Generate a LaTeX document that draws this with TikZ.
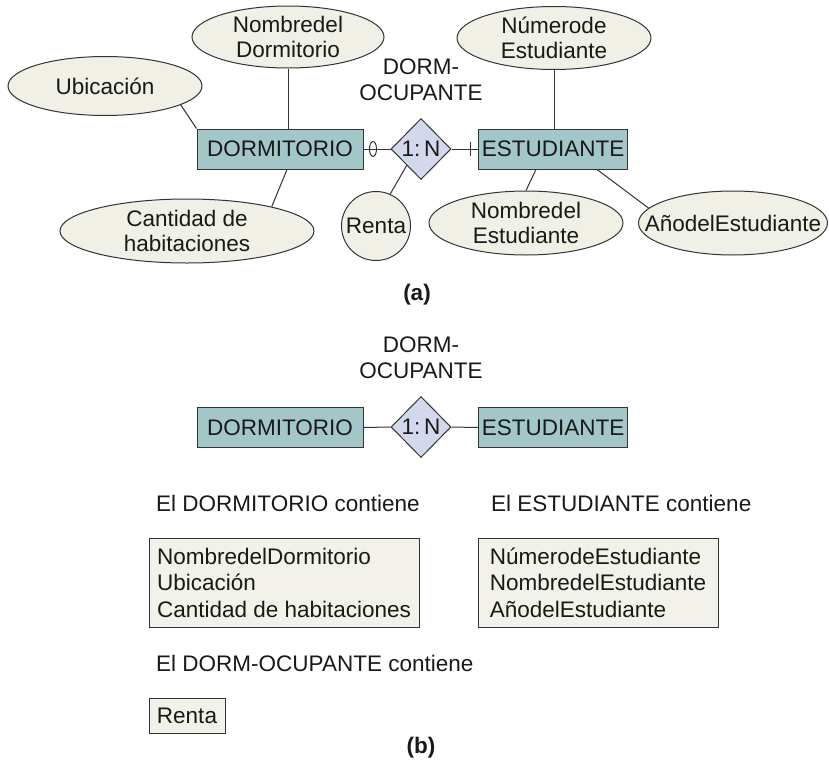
\documentclass[tikz,border=0pt]{standalone}
\usepackage{fontspec}
\setmainfont{Liberation Sans}
\usetikzlibrary{shapes.geometric}
\definecolor{entfill}{HTML}{A3C7C8}
\definecolor{attfill}{HTML}{F0F0E6}
\definecolor{relfill}{HTML}{D3D8EC}
\definecolor{boxfill}{HTML}{F2F2EA}
\definecolor{linec}{HTML}{333333}
\begin{document}
\begin{tikzpicture}[x=1pt,y=-1pt,
  every node/.style={font=\fontsize{22.5}{25}\selectfont, text=black!90},
  conn/.style={draw=linec, line width=1pt},
  ent/.style={draw=linec, line width=1pt, fill=entfill, minimum height=40pt, inner sep=0pt},
  att/.style={ellipse, draw=linec, line width=1pt, fill=attfill, inner sep=0pt},
  atext/.style={label={[align=center, inner sep=0pt]center:#1}},
  rel/.style={diamond, draw=linec, line width=1pt, fill=relfill, minimum width=60pt, minimum height=61pt, inner sep=0pt},
  lbl/.style={align=center, inner sep=0pt, font=\fontsize{22.5}{26}\selectfont},
  listbox/.style={draw=linec, line width=1pt, fill=boxfill, align=left, inner sep=0pt, font=\fontsize{22.5}{26.5}\selectfont},
  plain/.style={inner sep=0pt, anchor=base west}
]
\useasboundingbox (0,0) rectangle (829,760);

% ---------- (a) ----------
\node[att, minimum width=192pt, minimum height=62pt, atext={Nombredel\\Dormitorio}] (nd) at (288,37) {};
\node[att, minimum width=194pt, minimum height=59pt, atext={Ubicación}] (ub) at (105,86) {};
\node[ent, minimum width=166pt] (dorm) at (280,149) {DORMITORIO};
\node[att, minimum width=254pt, minimum height=64pt, atext={Cantidad de\\habitaciones}] (cant) at (187,231) {};
\node[circle, draw=linec, line width=1pt, fill=attfill, minimum size=69pt, inner sep=0pt] (renta) at (376,226) {Renta};
\node[rel] (rel) at (421,149) {1:\,N};
\node[ent, minimum width=149pt] (est) at (553,149) {ESTUDIANTE};
\node[att, minimum width=194pt, minimum height=63pt, atext={Númerode\\Estudiante}] (num) at (554,38) {};
\node[att, minimum width=194pt, minimum height=64pt, atext={Nombredel\\Estudiante}] (nest) at (526,223) {};
\node[att, minimum width=189pt, minimum height=64pt, atext={AñodelEstudiante}] (anio) at (733,223) {};
\node[lbl] (lbla) at (421,80) {DORM-\\OCUPANTE};
\node[inner sep=0pt, font=\fontsize{22.5}{25}\bfseries] (capa) at (417,295) {(a)};

\draw[conn] (ub.-14) -- (dorm.north west);
\draw[conn] (nd.south) -- (nd.south |- dorm.north);
\draw[conn] (cant.16) -- ([xshift=7pt]dorm.south);
\draw[conn] (num.south) -- (num.south |- est.north);
\draw[conn] (nest.north) -- ([xshift=-17pt]est.south);
\draw[conn] (anio.170) -- ([xshift=44pt]est.south);
\draw[conn] (renta.66) -- (rel.-131);
\draw[conn] (dorm.east) -- (rel.west);
\draw[conn] (rel.east) -- (est.west);
\coordinate (oc) at (373,149);
\draw[conn] (oc) ellipse [x radius=3.5pt, y radius=7.5pt];
\coordinate (tk) at (470,149);
\draw[conn] ([yshift=-7pt]tk) -- ([yshift=7pt]tk);

% ---------- (b) ----------
\node[lbl] (lblb) at (421,358) {DORM-\\OCUPANTE};
\node[ent, minimum width=166pt] (dormb) at (280,427.5) {DORMITORIO};
\node[rel] (relb) at (421,427) {1:\,N};
\node[ent, minimum width=149pt] (estb) at (553,427.5) {ESTUDIANTE};
\draw[conn] (dormb.east) -- (relb.west);
\draw[conn] (relb.east) -- (estb.west);

\node[plain] (t1) at (156,511) {El DORMITORIO contiene};
\node[plain] (t2) at (491,511) {El ESTUDIANTE contiene};
\node[listbox, minimum width=270pt, minimum height=89pt] (b1) at (284,582.5)
  {NombredelDormitorio\\Ubicación\\Cantidad de habitaciones};
\node[listbox, minimum width=240pt, minimum height=89pt] (b2) at (598,582.5)
  {NúmerodeEstudiante\\NombredelEstudiante\\AñodelEstudiante};
\node[plain] (t3) at (156,671) {El DORM-OCUPANTE contiene};
\node[listbox, minimum width=76pt, minimum height=35pt] (b3) at (187,715.5) {Renta};
\node[inner sep=0pt, font=\fontsize{22.5}{25}\bfseries] (capb) at (421,748) {(b)};
\end{tikzpicture}
\end{document}
